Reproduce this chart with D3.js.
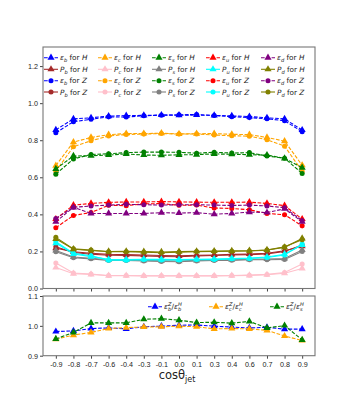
<!DOCTYPE html>
<html>
<head>
<meta charset="utf-8">
<script src="https://cdn.jsdelivr.net/npm/d3@7"></script>
<style>
  body { margin: 0; background: #fff; }
  svg { font-family: "DejaVu Sans", sans-serif; }
</style>
</head>
<body>
<svg id="chart"></svg>
<script>
const xLabels = ["-0.9","-0.8","-0.7","-0.6","-0.4","-0.3","-0.1","0.0","0.1","0.3","0.4","0.6","0.7","0.8","0.9"];

// efficiencies
const epsB_H = [0.856,0.915,0.921,0.930,0.933,0.934,0.936,0.935,0.936,0.934,0.931,0.928,0.921,0.915,0.855];
const epsB_Z = [0.840,0.900,0.913,0.926,0.925,0.932,0.935,0.937,0.939,0.933,0.927,0.922,0.916,0.905,0.846];
const epsC_H = [0.663,0.790,0.815,0.830,0.836,0.836,0.838,0.834,0.835,0.836,0.832,0.830,0.815,0.795,0.665];
const epsC_Z = [0.633,0.765,0.797,0.823,0.831,0.833,0.836,0.833,0.834,0.828,0.824,0.822,0.803,0.768,0.633];
const epsS_H = [0.645,0.715,0.716,0.720,0.726,0.720,0.719,0.721,0.722,0.726,0.724,0.722,0.720,0.702,0.652];
const epsS_Z = [0.617,0.699,0.723,0.727,0.733,0.736,0.736,0.735,0.730,0.735,0.731,0.733,0.715,0.703,0.621];
const epsU_H = [0.375,0.450,0.459,0.465,0.467,0.467,0.469,0.467,0.466,0.465,0.465,0.466,0.459,0.447,0.375];
const epsU_Z = [0.328,0.394,0.410,0.449,0.447,0.457,0.458,0.449,0.450,0.434,0.432,0.425,0.405,0.398,0.338];
const epsD_H = [0.360,0.438,0.405,0.405,0.405,0.405,0.409,0.407,0.409,0.401,0.405,0.412,0.410,0.430,0.360];
const epsD_Z = [0.378,0.438,0.445,0.450,0.454,0.452,0.450,0.452,0.452,0.450,0.448,0.450,0.445,0.436,0.366];

// purities
const pB_H = [0.218,0.198,0.190,0.185,0.183,0.181,0.178,0.176,0.179,0.181,0.184,0.186,0.190,0.204,0.228];
const pB_Z = [0.225,0.194,0.185,0.180,0.178,0.176,0.173,0.171,0.176,0.178,0.181,0.183,0.187,0.200,0.235];
const pC_H = [0.113,0.080,0.076,0.069,0.069,0.068,0.068,0.068,0.068,0.068,0.069,0.071,0.074,0.082,0.108];
const pC_Z = [0.138,0.084,0.078,0.070,0.070,0.069,0.069,0.069,0.069,0.069,0.070,0.072,0.076,0.086,0.132];
const pS_H = [0.205,0.170,0.163,0.155,0.154,0.152,0.150,0.148,0.152,0.154,0.155,0.158,0.159,0.162,0.208];
const pS_Z = [0.198,0.166,0.160,0.151,0.151,0.149,0.146,0.144,0.149,0.151,0.152,0.155,0.155,0.157,0.200];
const pU_H = [0.245,0.186,0.172,0.157,0.156,0.158,0.157,0.156,0.158,0.159,0.162,0.164,0.170,0.185,0.235];
const pU_Z = [0.252,0.190,0.177,0.153,0.153,0.156,0.154,0.154,0.156,0.156,0.160,0.162,0.167,0.181,0.240];
const pD_H = [0.268,0.212,0.205,0.200,0.201,0.199,0.197,0.199,0.201,0.202,0.203,0.204,0.208,0.222,0.270];
const pD_Z = [0.276,0.214,0.207,0.198,0.198,0.196,0.193,0.196,0.199,0.200,0.201,0.202,0.207,0.225,0.263];

// ratios Z / H
const ratioB = [0.981,0.983,0.991,0.993,0.990,0.997,0.999,1.002,1.003,0.999,0.996,0.993,0.995,0.989,0.989];
const ratioC = [0.955,0.969,0.978,0.991,0.994,0.996,0.997,0.999,0.997,0.990,0.991,0.990,0.985,0.966,0.951];
const ratioS = [0.956,0.978,1.010,1.010,1.010,1.022,1.024,1.019,1.011,1.012,1.009,1.015,0.993,1.001,0.953];

const topYTicks = [0.0, 0.2, 0.4, 0.6, 0.8, 1.0, 1.2];
const botYTicks = [0.9, 1.0, 1.1];

// series table, in plotting order (legend fills column by column)
const flavours = [
  { q: "b", eH: epsB_H, eZ: epsB_Z, pH: pB_H, pZ: pB_Z, ec: "blue",   pc: "#a52a2a" },
  { q: "c", eH: epsC_H, eZ: epsC_Z, pH: pC_H, pZ: pC_Z, ec: "orange", pc: "pink" },
  { q: "s", eH: epsS_H, eZ: epsS_Z, pH: pS_H, pZ: pS_Z, ec: "green",  pc: "gray" },
  { q: "u", eH: epsU_H, eZ: epsU_Z, pH: pU_H, pZ: pU_Z, ec: "red",    pc: "cyan" },
  { q: "d", eH: epsD_H, eZ: epsD_Z, pH: pD_H, pZ: pD_Z, ec: "purple", pc: "olive" }
];
const series = [];
flavours.forEach(f => {
  series.push({ sym: "ε", q: f.q, src: "H", vals: f.eH, color: f.ec, dash: true,  marker: "tri" });
  series.push({ sym: "P", q: f.q, src: "H", vals: f.pH, color: f.pc, dash: false, marker: "tri" });
  series.push({ sym: "ε", q: f.q, src: "Z", vals: f.eZ, color: f.ec, dash: true,  marker: "dot" });
  series.push({ sym: "P", q: f.q, src: "Z", vals: f.pZ, color: f.pc, dash: false, marker: "dot" });
});
const ratios = [
  { q: "b", vals: ratioB, color: "blue" },
  { q: "c", vals: ratioC, color: "orange" },
  { q: "s", vals: ratioS, color: "green" }
];

const width = 350, height = 400;
const left = 43, right = 315;
const top1 = 47, bot1 = 288.5;
const top2 = 296, bot2 = 355.7;
const frameColor = "#777";
const fs = 7.2;

const svg = d3.select("#chart").attr("width", width).attr("height", height);

const x = d3.scalePoint().domain(xLabels).range([left, right]).padding(0.73);
const y1 = d3.scaleLinear().domain([0, 1.303]).range([bot1, top1]);
const y2 = d3.scaleLinear().domain([0.9, 1.1]).range([bot2, top2]);

const triPath = d3.symbol().type(d3.symbolTriangle).size(22)();
const dotPath = d3.symbol().type(d3.symbolCircle).size(20)();

function drawMarker(g, cx, cy, s) {
  g.append("path")
    .attr("d", s.marker === "tri" ? triPath : dotPath)
    .attr("transform", `translate(${cx},${cy})`)
    .attr("fill", s.color);
}

function drawSeries(g, yScale, s) {
  const line = d3.line().x((d, i) => x(xLabels[i])).y(d => yScale(d));
  g.append("path")
    .datum(s.vals)
    .attr("d", line)
    .attr("fill", "none")
    .attr("stroke", s.color)
    .attr("stroke-width", 1.1)
    .attr("stroke-dasharray", s.dash ? "3.7,1.6" : null);
  s.vals.forEach((v, i) => drawMarker(g, x(xLabels[i]), yScale(v), s));
}

// ---- top panel ----
const g1 = svg.append("g");
g1.append("g").attr("transform", `translate(${left},0)`)
  .call(d3.axisLeft(y1).tickValues(topYTicks).tickFormat(d3.format(".1f")).tickSizeOuter(0).tickSize(3).tickPadding(2))
  .call(a => a.select(".domain").remove())
  .call(a => a.selectAll("text").attr("font-size", fs).attr("fill", "#222"))
  .call(a => a.selectAll("line").attr("stroke", "#444"));
g1.append("g").attr("transform", `translate(0,${bot1})`)
  .call(d3.axisBottom(x).tickSize(3).tickSizeOuter(0).tickFormat(""))
  .call(a => a.select(".domain").remove())
  .call(a => a.selectAll("line").attr("stroke", "#444"));

series.forEach(s => drawSeries(g1, y1, s));

g1.append("rect").attr("x", left).attr("y", top1).attr("width", right - left).attr("height", bot1 - top1)
  .attr("fill", "none").attr("stroke", frameColor).attr("stroke-width", 1.1);

// math-like label: base symbol with sub/sup, then plain text pieces
function mathText(g, x0, y0, pieces, size) {
  let cx = x0;
  pieces.forEach(p => {
    if (p.sub !== undefined || p.sup !== undefined) {
      let w = 0;
      if (p.sub !== undefined) {
        const t = g.append("text").attr("x", cx).attr("y", y0 + size * 0.3).attr("font-size", size * 0.7)
          .attr("font-style", "italic").attr("fill", "#222").text(p.sub);
        w = Math.max(w, t.node().getComputedTextLength());
      }
      if (p.sup !== undefined) {
        const t = g.append("text").attr("x", cx).attr("y", y0 - size * 0.45).attr("font-size", size * 0.7)
          .attr("font-style", "italic").attr("fill", "#222").text(p.sup);
        w = Math.max(w, t.node().getComputedTextLength());
      }
      cx += w;
    } else {
      const t = g.append("text").attr("x", cx).attr("y", y0).attr("font-size", size)
        .attr("font-style", p.it ? "italic" : "normal").attr("fill", "#222")
        .attr("xml:space", "preserve").style("white-space", "pre").text(p.t);
      cx += t.node().getComputedTextLength();
    }
  });
}

// legend, 5 columns x 4 rows
const legX = [44, 98, 152, 206, 261];
const legY = [57.7, 69.3, 80.7, 92];
const lg = g1.append("g");
series.forEach((s, k) => {
  const col = Math.floor(k / 4), row = k % 4;
  const hx = legX[col], hy = legY[row];
  lg.append("line").attr("x1", hx).attr("x2", hx + 14).attr("y1", hy).attr("y2", hy)
    .attr("stroke", s.color).attr("stroke-width", 1.1).attr("stroke-dasharray", s.dash ? "3.7,1.6" : null);
  drawMarker(lg, hx + 7, hy, s);
  mathText(lg, hx + 16, hy + 2.6, [
    { t: s.sym, it: true }, { sub: s.q }, { t: " for " }, { t: s.src, it: true }
  ], 7.3);
});

// ---- bottom panel ----
const g2 = svg.append("g");
g2.append("g").attr("transform", `translate(${left},0)`)
  .call(d3.axisLeft(y2).tickValues(botYTicks).tickFormat(d3.format(".1f")).tickSizeOuter(0).tickSize(3).tickPadding(2))
  .call(a => a.select(".domain").remove())
  .call(a => a.selectAll("text").attr("font-size", fs).attr("fill", "#222"))
  .call(a => a.selectAll("line").attr("stroke", "#444"));
g2.append("g").attr("transform", `translate(0,${bot2})`)
  .call(d3.axisBottom(x).tickSize(3).tickSizeOuter(0).tickPadding(3))
  .call(a => a.select(".domain").remove())
  .call(a => a.selectAll("text").attr("font-size", fs).attr("fill", "#222"))
  .call(a => a.selectAll("line").attr("stroke", "#444"));

ratios.forEach(r => drawSeries(g2, y2, { vals: r.vals, color: r.color, dash: true, marker: "tri" }));

g2.append("rect").attr("x", left).attr("y", top2).attr("width", right - left).attr("height", bot2 - top2)
  .attr("fill", "none").attr("stroke", frameColor).attr("stroke-width", 1.1);

const leg2X = [148, 209, 270];
ratios.forEach((r, k) => {
  const hx = leg2X[k], hy = 306.7;
  g2.append("line").attr("x1", hx).attr("x2", hx + 14).attr("y1", hy).attr("y2", hy)
    .attr("stroke", r.color).attr("stroke-width", 1.1).attr("stroke-dasharray", "3.7,1.6");
  drawMarker(g2, hx + 7, hy, { marker: "tri", color: r.color });
  mathText(g2, hx + 16, hy + 2.6, [
    { t: "ε", it: true }, { sub: r.q, sup: "Z" }, { t: "/" }, { t: "ε", it: true }, { sub: r.q, sup: "H" }
  ], 7.3);
});

// x label
const xl = svg.append("text").attr("x", (left + right) / 2 - 2).attr("y", 379).attr("text-anchor", "middle")
  .attr("font-size", 11.5).attr("fill", "#222");
xl.append("tspan").text("cosθ");
xl.append("tspan").attr("font-size", 8).attr("dy", 2.5).text("jet");
</script>
</body>
</html>
